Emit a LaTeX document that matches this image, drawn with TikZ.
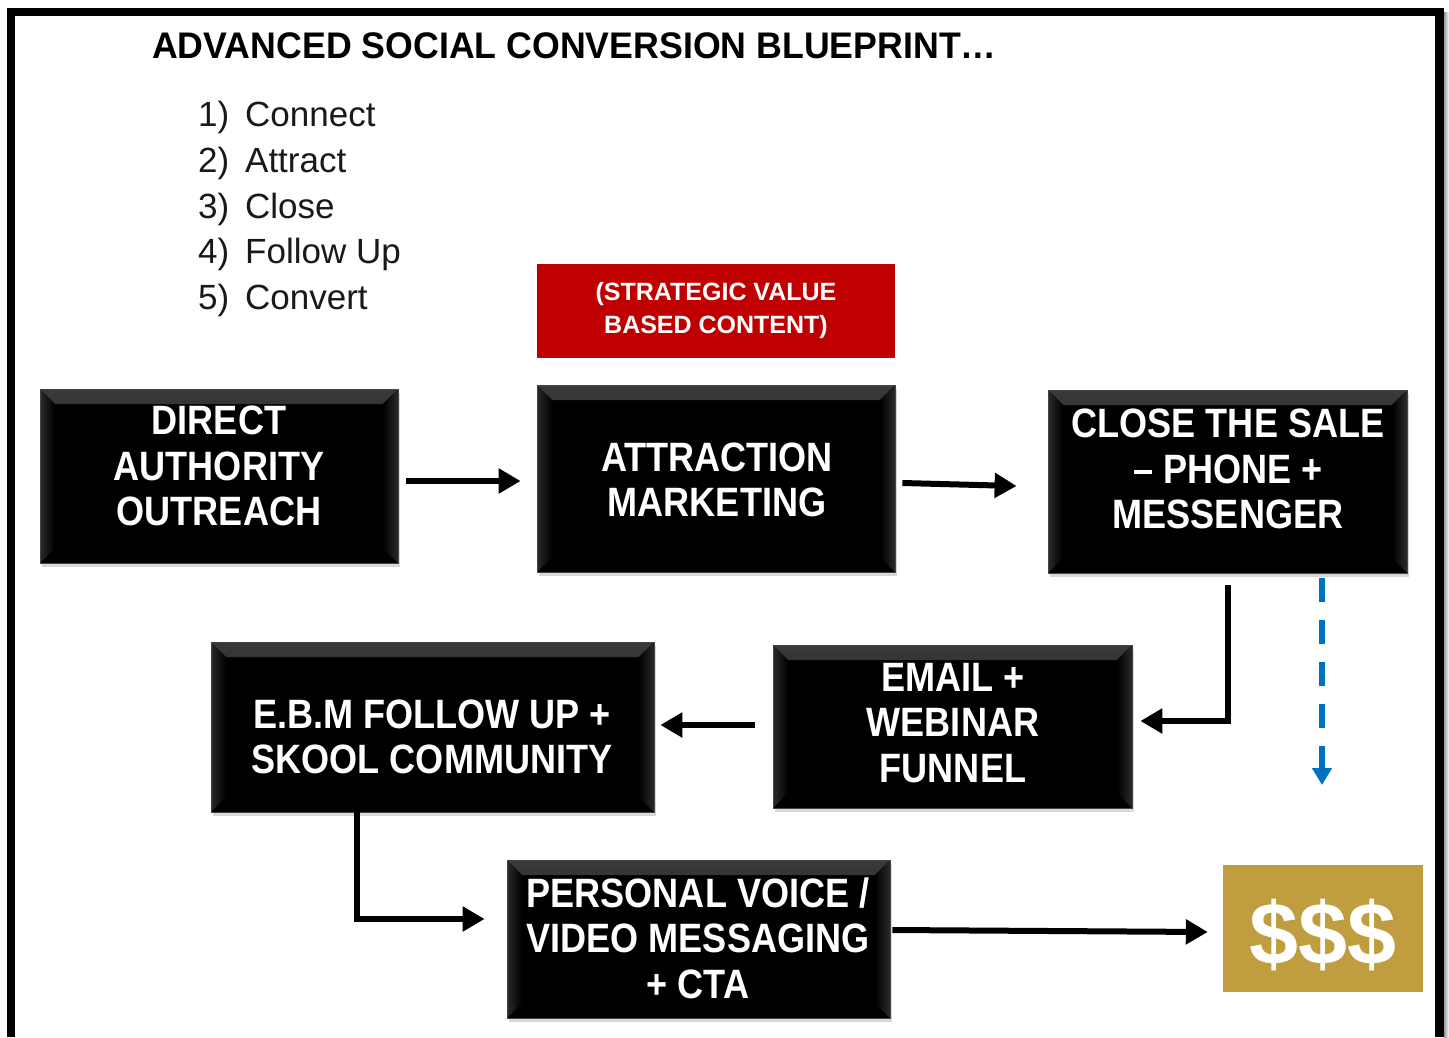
\documentclass[tikz,border=0pt]{standalone}
\usepackage{fontspec}
\setmainfont{Liberation Sans}
\newfontfamily\boxfont{Liberation Sans}[FakeStretch=0.88]
\newfontfamily\titlefont{Liberation Sans}[FakeStretch=0.965]
\usetikzlibrary{arrows.meta,shadows}
\definecolor{redbox}{RGB}{192,0,0}
\definecolor{goldbox}{RGB}{192,158,64}
\definecolor{blueline}{RGB}{0,112,192}
\definecolor{bevelc}{RGB}{58,58,58}
\definecolor{bevels}{RGB}{42,42,42}
\tikzset{
  bevbox/.style={rectangle, fill=black, draw={rgb,255:red,70;green,70;blue,70}, line width=0.8pt, inner sep=0pt,
    drop shadow={shadow xshift=2pt, shadow yshift=-4pt, opacity=0.3},
    path picture={
      \def\bv{15pt}
      \shade[top color=bevelc, bottom color=black]
        (path picture bounding box.north west) -- (path picture bounding box.north east)
        -- ([xshift=-\bv,yshift=-\bv]path picture bounding box.north east)
        -- ([xshift=\bv,yshift=-\bv]path picture bounding box.north west) -- cycle;
      \shade[left color=bevels, right color=black]
        (path picture bounding box.north west) -- ([xshift=\bv,yshift=-\bv]path picture bounding box.north west)
        -- ([xshift=\bv,yshift=\bv]path picture bounding box.south west)
        -- (path picture bounding box.south west) -- cycle;
      \shade[right color=bevels, left color=black]
        (path picture bounding box.north east) -- ([xshift=-\bv,yshift=-\bv]path picture bounding box.north east)
        -- ([xshift=-\bv,yshift=\bv]path picture bounding box.south east)
        -- (path picture bounding box.south east) -- cycle;
    }},
  boxtext/.style={text=white, font=\boxfont\bfseries\fontsize{41pt}{45.5pt}\selectfont, align=center, inner sep=0pt},
  listitem/.style={anchor=base west, inner sep=0pt, font=\fontsize{35pt}{40pt}\selectfont, text={rgb,255:red,25;green,25;blue,25}},
  arr/.style={line width=6pt, line join=miter, -{Triangle[length=22pt,width=24pt]}},
  bluearr/.style={draw=blueline, line width=6pt, dash pattern=on 24pt off 18pt, -{Triangle[length=17pt,width=19pt]}},
}
\newcommand{\numitem}[2]{\makebox[47pt][l]{#1}#2}
\begin{document}
\begin{tikzpicture}[x=1pt,y=-1pt]
\useasboundingbox (0,0) rectangle (1449,1037);
\fill[white] (0,0) rectangle (1449,1037);
% frame
\shade[left color=black!40, right color=white] (1444,12) rectangle (1449,1037);
\fill[black] (7,8) rectangle (15,1037);
\fill[black] (7,8) rectangle (1444,16);
\fill[black] (1435,8) rectangle (1444,1037);

% title and list
\node[anchor=base west, inner sep=0pt, font=\titlefont\bfseries\fontsize{37pt}{40pt}\selectfont] (title) at (152,58) {ADVANCED SOCIAL CONVERSION BLUEPRINT…};
\node[listitem] (l1) at (198,126) {\numitem{1)}{Connect}};
\node[listitem] (l2) at (198,172) {\numitem{2)}{Attract}};
\node[listitem] (l3) at (198,218) {\numitem{3)}{Close}};
\node[listitem] (l4) at (198,263.5) {\numitem{4)}{Follow Up}};
\node[listitem] (l5) at (198,309) {\numitem{5)}{Convert}};

% red label
\node[fill=redbox, minimum width=358pt, minimum height=94pt, inner sep=0pt, text=white, align=center,
      font=\bfseries\fontsize{25pt}{33pt}\selectfont] (svbc) at (716,311) {(STRATEGIC VALUE\\BASED CONTENT)};

% boxes
\node[bevbox, minimum width=358pt, minimum height=174pt] (dao) at (219,476) {};
\node[boxtext] (daoT) at (219,466) {DIRECT\\AUTHORITY\\OUTREACH};

\node[bevbox, minimum width=358pt, minimum height=187pt] (am) at (716,478.5) {};
\node[boxtext] (amT) at (717,480) {ATTRACTION\\MARKETING};

\node[bevbox, minimum width=359pt, minimum height=183pt] (cs) at (1227.5,481.5) {};
\node[boxtext] (csT) at (1228,469) {CLOSE THE SALE\\– PHONE +\\MESSENGER};

\node[bevbox, minimum width=359pt, minimum height=163pt] (ewf) at (952.5,726.5) {};
\node[boxtext] (ewfT) at (953,723) {EMAIL +\\WEBINAR\\FUNNEL};

\node[bevbox, minimum width=443pt, minimum height=170pt] (ebm) at (432.5,727) {};
\node[boxtext] (ebmT) at (432,737) {E.B.M FOLLOW UP +\\SKOOL COMMUNITY};

\node[bevbox, minimum width=383pt, minimum height=158pt] (pv) at (698.5,939) {};
\node[boxtext] (pvT) at (698,938) {PERSONAL VOICE /\\VIDEO MESSAGING\\+ CTA};

\node[fill=goldbox, minimum width=200pt, minimum height=127pt, inner sep=0pt] (money) at (1323,928.5) {};
\node[text=white, inner sep=0pt, font=\bfseries\fontsize{88pt}{90pt}\selectfont] (moneyT) at (1323,935) {\$\$\$};

% connectors
\draw[arr] ([xshift=8pt,yshift=-5pt]dao.east) -- ([xshift=-16pt,yshift=-2.5pt]am.west);
\draw[arr] ([xshift=7pt,yshift=-4.5pt]am.east) -- ([xshift=-31pt,yshift=-4.5pt]cs.west);
\draw[arr] ([yshift=-12pt]cs.south) |- ([xshift=8pt,yshift=5.5pt]ewf.east);
\draw[arr] ([xshift=-18pt,yshift=1.5pt]ewf.west) -- ([xshift=6pt,yshift=2pt]ebm.east);
\draw[arr] ([xshift=-75.5pt]ebm.south) |- ([xshift=-22pt,yshift=20pt]pv.west);
\draw[arr] ([xshift=2pt,yshift=9pt]pv.east) -- ([xshift=-15pt,yshift=-3.5pt]money.west);
\coordinate (blueEnd) at (1322,785);
\draw[bluearr] ([xshift=94.5pt,yshift=-5pt]cs.south) -- (blueEnd);
\end{tikzpicture}
\end{document}
